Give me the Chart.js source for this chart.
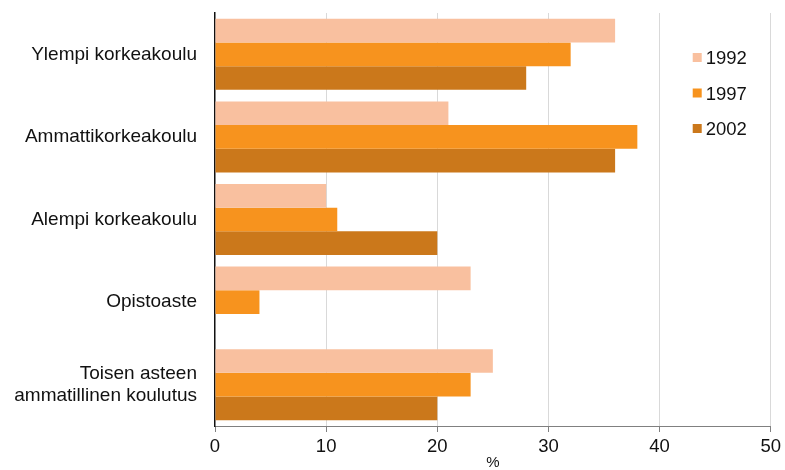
<!DOCTYPE html>
<html>
<head>
<meta charset="utf-8">
<script src="https://cdn.jsdelivr.net/npm/chart.js@4"></script>
<style>
  html, body { margin: 0; padding: 0; background: #fff; }
  #wrap { width: 785px; height: 470px; }
</style>
</head>
<body>
<div id="wrap"><canvas id="koulutusChart"></canvas></div>
<script>
// Data
var categories = [
    'Ylempi korkeakoulu',
    'Ammattikorkeakoulu',
    'Alempi korkeakoulu',
    'Opistoaste',
    ['Toisen asteen', 'ammatillinen koulutus']
];
var years = ['1992', '1997', '2002'];
var values1992 = [36, 21, 10, 23, 25];
var values1997 = [32, 38, 11, 4, 23];
var values2002 = [28, 36, 20, null, 20];
var xTicks = [0, 10, 20, 30, 40, 50];

var colors = ['#F9C09F', '#F7931E', '#CB781B'];
var fontFamily = '"Liberation Sans", Arial, sans-serif';

// legend drawn inside the plot area, top right
var insideLegend = {
    id: 'insideLegend',
    afterDraw: function (chart) {
        var ctx = chart.ctx;
        var area = chart.chartArea;
        var x = area.right - 78;
        var y = area.top + 45;
        ctx.save();
        ctx.font = '18.5px ' + fontFamily;
        ctx.textBaseline = 'middle';
        ctx.textAlign = 'left';
        chart.data.datasets.forEach(function (ds, i) {
            var cy = y + i * 35.5;
            ctx.fillStyle = ds.backgroundColor;
            ctx.fillRect(x, cy - 5, 9, 9);
            ctx.fillStyle = '#111';
            ctx.fillText(ds.label, x + 13, cy + 1);
        });
        ctx.restore();
    }
};

var ctx = document.getElementById('koulutusChart').getContext('2d');
var chart = new Chart(ctx, {
    type: 'bar',
    data: {
        labels: categories,
        datasets: [
            { label: years[0], data: values1992, backgroundColor: colors[0] },
            { label: years[1], data: values1997, backgroundColor: colors[1] },
            { label: years[2], data: values2002, backgroundColor: colors[2] }
        ]
    },
    options: {
        indexAxis: 'y',
        responsive: true,
        maintainAspectRatio: false,
        animation: false,
        layout: {
            padding: { top: 13, right: 13, bottom: 0, left: 0 }
        },
        datasets: {
            bar: { barPercentage: 1, categoryPercentage: 0.86 }
        },
        plugins: {
            legend: { display: false },
            tooltip: { enabled: false }
        },
        scales: {
            x: {
                min: 0,
                max: 50,
                afterBuildTicks: function (scale) {
                    scale.ticks = xTicks.map(function (v) { return { value: v }; });
                },
                afterFit: function (scale) { scale.height = 44; },
                grid: {
                    color: function (c) {
                        return c.tick && c.tick.value === 0 ? 'rgba(0,0,0,0)' : '#D9D9D9';
                    },
                    tickColor: '#808080',
                    tickLength: 6
                },
                border: { color: '#808080', width: 1 },
                ticks: {
                    padding: 4,
                    color: '#111',
                    font: { family: fontFamily, size: 18.5 }
                },
                title: {
                    display: true,
                    text: '%',
                    color: '#111',
                    padding: { top: 0, bottom: 0 },
                    font: { family: fontFamily, size: 15, lineHeight: 1 }
                }
            },
            y: {
                afterFit: function (scale) {
                    scale.width = 215;
                    scale.paddingTop = 0;
                    scale.paddingBottom = 0;
                },
                grid: { display: false, drawTicks: false },
                border: { color: '#111', width: 1.5 },
                ticks: {
                    padding: 18,
                    color: '#111',
                    font: { family: fontFamily, size: 19, lineHeight: 1.15 }
                }
            }
        }
    },
    plugins: [insideLegend]
});
</script>
</body>
</html>
